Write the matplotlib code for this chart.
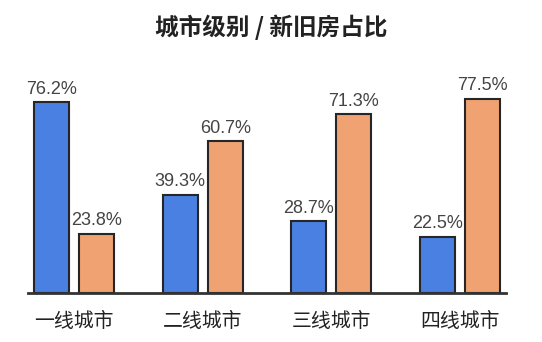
import matplotlib
matplotlib.use("Agg")
import matplotlib.pyplot as plt
import numpy as np

plt.rcParams['font.family'] = ['Noto Sans CJK SC', 'DejaVu Sans']

categories = ["一线城市", "二线城市", "三线城市", "四线城市"]
new_share = [76.2, 39.3, 28.7, 22.5]
old_share = [23.8, 60.7, 71.3, 77.5]
title = "城市级别 / 新旧房占比"

blue = "#4a80e2"
orange = "#f0a272"
edge = "#262626"

fig = plt.figure(figsize=(5.42, 3.42), dpi=100)
ax = fig.add_axes([28/542, 48.7/342, 478/542, 225.9/342])

x = np.arange(len(categories))
w = 0.272
off = 0.175
b1 = ax.bar(x - off, new_share, width=w, color=blue, edgecolor=edge, linewidth=1.5)
b2 = ax.bar(x + off, old_share, width=w, color=orange, edgecolor=edge, linewidth=1.5)

for bars, vals in ((b1, new_share), (b2, old_share)):
    for r, v in zip(bars, vals):
        ax.annotate(f"{v:.1f}%", (r.get_x() + r.get_width()/2, r.get_height()),
                    xytext=(0, 6), textcoords="offset points", ha="center", va="baseline",
                    fontsize=13, color="#444444", family=["Liberation Sans", "DejaVu Sans"])

ax.set_xlim(-0.357, 3.357)
ax.set_ylim(0, 90)
ax.set_xticks(x)
ax.set_xticklabels(categories, fontsize=14.3, color="#222222")
ax.tick_params(axis="x", length=0, pad=13)
ax.set_yticks([])
for s in ("top", "right", "left"):
    ax.spines[s].set_visible(False)
ax.spines["bottom"].set_linewidth(2)
ax.spines["bottom"].set_color("#333333")

fig.text(0.5, 1 - 27.5/342, title, ha="center", va="center", fontsize=17,
         fontweight="bold", color="#222222")

fig.savefig("out.png", dpi=100, facecolor="white")
